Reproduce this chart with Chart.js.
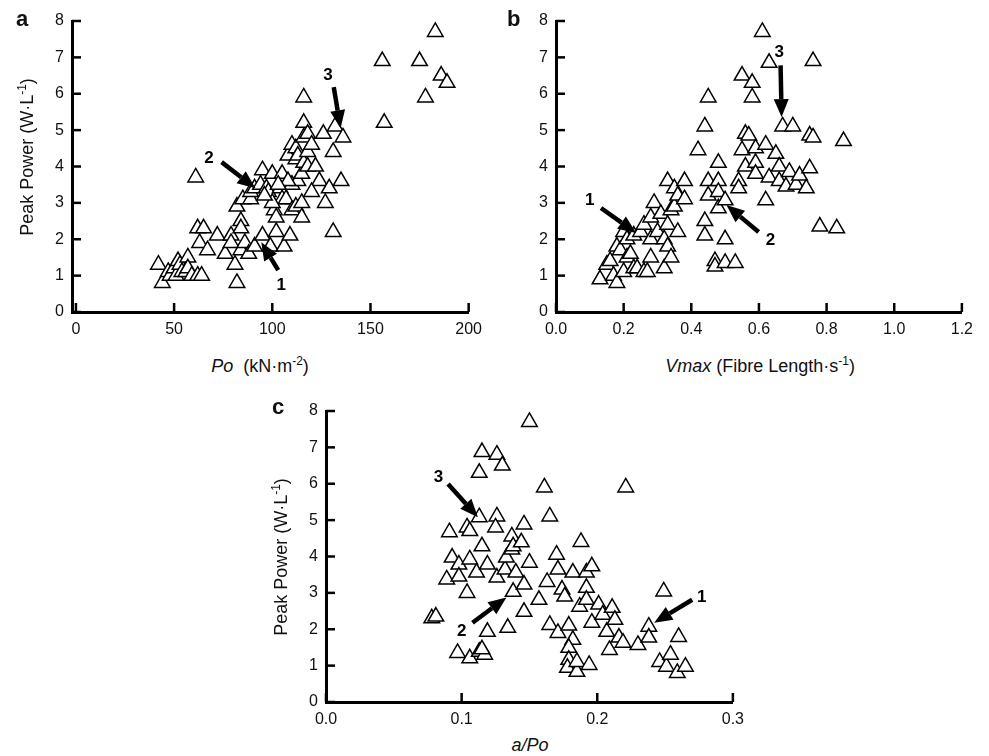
<!DOCTYPE html>
<html>
<head>
<meta charset="utf-8">
<script src="https://cdn.jsdelivr.net/npm/chart.js@4.4.0/dist/chart.umd.min.js"></script>
<style>
  body { margin:0; background:#fff; width:989px; height:756px; position:relative; overflow:hidden;
         font-family:"Liberation Sans", Arial, sans-serif; color:#111; }
  canvas { position:absolute; }
  .lbl { position:absolute; font-size:18px; line-height:18px; white-space:nowrap; text-align:center; }
  .panel { position:absolute; font-weight:bold; font-size:22px; line-height:22px; }
  .ytitle { transform: translate(-50%,-50%) rotate(-90deg); }
  sup { font-size:12px; line-height:0; vertical-align:7px; }
</style>
</head>
<body>
<canvas id="chartA" width="490" height="345" style="left:0;top:0"></canvas>
<canvas id="chartB" width="491" height="345" style="left:490px;top:0"></canvas>
<canvas id="chartC" width="502" height="345" style="left:250px;top:390px"></canvas>

<div class="panel" style="left:16px;top:8px">a</div>
<div class="panel" style="left:507px;top:8px">b</div>
<div class="panel" style="left:272px;top:396px">c</div>

<div class="lbl ytitle" style="left:27px;top:157px">Peak Power (W·L<sup>-1</sup>)</div>
<div class="lbl ytitle" style="left:281px;top:557px">Peak Power (W·L<sup>-1</sup>)</div>
<div class="lbl" style="left:110px;top:357px;width:300px"><i>Po</i>&nbsp; (kN·m<sup>-2</sup>)</div>
<div class="lbl" style="left:610px;top:357px;width:300px"><i>Vmax</i> (Fibre Length·s<sup>-1</sup>)</div>
<div class="lbl" style="left:430px;top:736px;width:200px"><i>a/Po</i></div>

<script>
// Po (kN·m-2) vs peak power (W·L-1)
const pointsA = [
  [42,1.3],[44,0.8],[47,1.1],[48,1.0],[50,1.2],[51,1.0],[52,1.4],[53,1.3],[54,1.1],[56,1.1],
  [57,1.5],[57,1.2],[59,1.0],[62,1.0],[64,1.0],[61,3.7],
  [62,2.3],[65,2.3],[63,1.9],[67,1.7],[72,2.1],[76,1.6],[79,2.1],[79,1.9],[81,1.3],[82,0.8],
  [84,1.7],[86,1.9],[88,1.6],[91,1.8],[95,2.1],[99,1.8],[102,2.2],[106,1.8],[109,2.1],
  [82,2.9],[84,2.5],[84,2.3],[85,3.1],[89,3.1],[89,3.3],[91,3.4],[94,3.5],[95,3.9],[97,3.4],
  [98,3.3],[100,3.8],[101,2.8],[102,2.6],[104,3.4],[105,3.8],[105,3.1],[107,3.1],[108,4.3],[110,2.8],
  [110,3.5],[110,4.6],[112,4.5],[112,4.2],[112,2.9],[113,3.6],[113,4.3],[115,2.6],[115,3.8],[115,3.0],
  [116,4.1],[116,4.8],[116,5.2],[116,5.9],[118,4.0],[118,4.4],[118,4.9],[124,3.6],[126,4.9],[127,3.0],
  [129,3.4],[131,4.4],[131,2.2],[132,5.1],[135,3.6],[136,4.8],[120,4.6],[108,3.6],[103,3.5],[100,3.0],
  [96,3.2],[120,3.3],[122,4.0],
  [156,6.9],[157,5.2],[175,6.9],[178,5.9],[183,7.7],[186,6.5],[189,6.3]
];

// Vmax (fibre length·s-1) vs peak power
const pointsB = [
  [0.13,0.9],[0.15,1.3],[0.16,1.4],[0.17,1.0],[0.18,0.8],[0.18,1.8],[0.19,1.7],[0.20,1.1],[0.20,2.2],[0.21,2.0],
  [0.21,1.5],[0.22,1.6],[0.23,1.2],[0.23,2.1],[0.24,1.2],[0.25,2.2],[0.26,1.1],[0.26,2.4],[0.27,1.1],[0.28,1.5],
  [0.28,2.0],[0.28,2.6],[0.29,3.0],[0.30,2.2],[0.31,2.7],[0.32,1.2],[0.32,2.0],[0.33,1.8],[0.33,2.4],[0.33,3.6],
  [0.34,1.5],[0.34,2.8],[0.35,2.9],[0.35,3.4],[0.36,2.2],[0.36,3.2],[0.38,3.1],[0.38,3.6],
  [0.42,4.45],[0.44,5.1],[0.45,5.9],[0.44,2.5],[0.44,2.1],[0.45,3.6],[0.45,3.2],[0.47,1.4],[0.47,1.25],[0.48,4.1],
  [0.48,3.6],[0.48,3.3],[0.48,2.85],[0.50,3.07],[0.50,2.0],[0.50,1.35],[0.53,1.35],[0.54,3.6],[0.54,3.4],[0.55,4.45],
  [0.56,4.9],[0.57,4.85],[0.56,4.0],[0.55,6.5],[0.58,6.3],[0.58,5.9],[0.59,4.5],[0.59,4.1],[0.59,3.8],[0.61,7.7],
  [0.62,3.07],[0.62,4.6],[0.63,6.85],[0.63,3.7],[0.65,4.35],[0.66,4.0],[0.66,3.6],[0.67,5.1],[0.68,3.45],[0.69,3.85],
  [0.70,5.1],[0.71,3.5],[0.72,3.75],[0.74,3.4],[0.75,3.95],[0.75,4.85],[0.76,4.8],[0.76,6.9],[0.78,2.35],[0.83,2.3],
  [0.85,4.7]
];

// a/Po vs peak power
const pointsC = [
  [0.078,2.3],[0.081,2.35],[0.089,3.37],[0.091,4.67],[0.093,3.97],[0.097,1.35],[0.098,3.78],[0.098,3.45],[0.104,4.8],[0.106,4.7],
  [0.104,3.0],[0.106,3.92],[0.106,1.2],[0.111,3.56],[0.113,1.38],[0.117,1.3],[0.115,1.45],[0.113,5.08],[0.113,6.3],[0.115,6.87],
  [0.115,4.28],[0.119,3.78],[0.119,1.93],[0.126,6.8],[0.13,6.5],[0.126,5.1],[0.125,4.8],[0.126,3.42],[0.132,3.64],[0.133,3.97],
  [0.134,2.04],[0.137,4.55],[0.137,4.19],[0.138,4.28],[0.138,3.03],[0.14,3.56],[0.144,4.39],[0.146,4.88],[0.146,3.23],[0.146,2.48],
  [0.15,3.83],[0.15,7.7],[0.157,2.81],[0.161,5.9],[0.163,3.3],[0.165,5.1],[0.165,2.12],[0.17,4.05],[0.171,3.64],[0.171,1.9],
  [0.174,3.09],[0.176,2.9],[0.179,2.1],[0.182,3.56],[0.182,1.71],[0.179,1.49],[0.179,1.16],[0.178,0.94],[0.185,0.83],[0.185,1.1],
  [0.187,2.62],[0.188,4.4],[0.192,3.14],[0.192,2.81],[0.192,3.56],[0.194,1.02],[0.196,3.73],[0.196,2.18],[0.201,2.68],[0.204,2.4],
  [0.207,1.93],[0.209,1.43],[0.211,2.59],[0.213,2.26],[0.216,1.77],[0.219,1.63],[0.221,5.9],[0.23,1.57],[0.238,2.07],[0.238,1.77],
  [0.246,1.1],[0.249,3.04],[0.251,0.97],[0.254,1.3],[0.259,0.8],[0.26,1.79],[0.265,0.97]
];

const xTicksA = [0, 50, 100, 150, 200];
const xTicksB = [0, 0.2, 0.4, 0.6, 0.8, 1.0, 1.2];
const xTicksC = [0, 0.1, 0.2, 0.3];
const yTicks = [0, 1, 2, 3, 4, 5, 6, 7, 8];

// numbered arrows: tail, head, number position (data units)
const arrowsA = [
  { label: "1", from: [103, 1.15], to: [94.4, 1.92], at: [104.5, 0.74] },
  { label: "2", from: [74.2, 4.12], to: [91.4, 3.4], at: [67.7, 4.23] },
  { label: "3", from: [131.3, 6.18], to: [134.8, 5.05], at: [128.3, 6.5] },
];
const arrowsB = [
  { label: "1", from: [0.133, 2.86], to: [0.237, 2.17], at: [0.10, 3.07] },
  { label: "2", from: [0.599, 2.2], to: [0.504, 2.94], at: [0.634, 1.98] },
  { label: "3", from: [0.664, 6.78], to: [0.667, 5.36], at: [0.66, 7.14] },
];
const arrowsC = [
  { label: "3", from: [0.09, 5.99], to: [0.112, 5.08], at: [0.083, 6.18] },
  { label: "2", from: [0.108, 2.18], to: [0.133, 2.87], at: [0.10, 1.93] },
  { label: "1", from: [0.27, 2.81], to: [0.242, 2.18], at: [0.277, 2.87] },
];

Chart.defaults.font.family = '"Liberation Sans", Arial, sans-serif';
Chart.defaults.font.size = 16;
Chart.defaults.color = "#111";

// ticks point inward from the axis lines
const inwardTicks = {
  id: "inwardTicks",
  afterDraw(chart) {
    const { ctx, chartArea, scales } = chart;
    ctx.save();
    ctx.strokeStyle = "#000";
    ctx.lineWidth = 2.5;
    scales.x.ticks.forEach((t) => {
      const px = scales.x.getPixelForValue(t.value);
      ctx.beginPath();
      ctx.moveTo(px, chartArea.bottom);
      ctx.lineTo(px, chartArea.bottom - 9);
      ctx.stroke();
    });
    scales.y.ticks.forEach((t) => {
      const py = scales.y.getPixelForValue(t.value);
      ctx.beginPath();
      ctx.moveTo(chartArea.left, py);
      ctx.lineTo(chartArea.left + 9, py);
      ctx.stroke();
    });
    ctx.restore();
  },
};

function arrowPlugin(list) {
  return {
    id: "arrows",
    afterDatasetsDraw(chart) {
      const { ctx, scales } = chart;
      const px = (p) => [scales.x.getPixelForValue(p[0]), scales.y.getPixelForValue(p[1])];
      ctx.save();
      ctx.fillStyle = "#000";
      ctx.strokeStyle = "#000";
      list.forEach((a) => {
        const [x1, y1] = px(a.from);
        const [x2, y2] = px(a.to);
        const ang = Math.atan2(y2 - y1, x2 - x1);
        const headLen = 18, headW = 7.5;
        const bx = x2 - headLen * Math.cos(ang);
        const by = y2 - headLen * Math.sin(ang);
        ctx.lineWidth = 4.5;
        ctx.beginPath();
        ctx.moveTo(x1, y1);
        ctx.lineTo(bx, by);
        ctx.stroke();
        ctx.beginPath();
        ctx.moveTo(x2, y2);
        ctx.lineTo(bx + headW * Math.sin(ang), by - headW * Math.cos(ang));
        ctx.lineTo(bx - headW * Math.sin(ang), by + headW * Math.cos(ang));
        ctx.closePath();
        ctx.fill();
        const [tx, ty] = px(a.at);
        ctx.font = 'bold 17px "Liberation Sans", Arial, sans-serif';
        ctx.textAlign = "center";
        ctx.textBaseline = "middle";
        ctx.fillText(a.label, tx, ty);
      });
      ctx.restore();
    },
  };
}

function makeChart(id, points, xMin, xMax, xTicks, decimals, yAxisWidth, arrows) {
  return new Chart(document.getElementById(id), {
    type: "scatter",
    data: {
      datasets: [{
        data: points.map(([x, y]) => ({ x, y })),
        pointStyle: "triangle",
        pointRadius: 9,
        pointBackgroundColor: "#fff",
        pointBorderColor: "#000",
        pointBorderWidth: 1.5,
        clip: false,
      }],
    },
    options: {
      responsive: false,
      animation: false,
      events: [],
      layout: { padding: { top: 21, right: 18, left: 0, bottom: 0 } },
      plugins: { legend: { display: false }, tooltip: { enabled: false } },
      scales: {
        x: {
          type: "linear",
          min: xMin,
          max: xMax,
          afterBuildTicks: (axis) => { axis.ticks = xTicks.map((v) => ({ value: v })); },
          afterFit: (axis) => { axis.height = 33; },
          grid: { display: false, drawTicks: false },
          border: { display: true, color: "#000", width: 3 },
          ticks: { padding: 8, callback: (v) => v.toFixed(decimals) },
        },
        y: {
          type: "linear",
          min: 0,
          max: 8,
          afterBuildTicks: (axis) => { axis.ticks = yTicks.map((v) => ({ value: v })); },
          afterFit: (axis) => { axis.width = yAxisWidth; },
          grid: { display: false, drawTicks: false },
          border: { display: true, color: "#000", width: 3 },
          ticks: { padding: 8 },
        },
      },
    },
    plugins: [inwardTicks, arrowPlugin(arrows)],
  });
}

makeChart("chartA", pointsA, -2, 200, xTicksA, 0, 72, arrowsA);
makeChart("chartB", pointsB, 0, 1.2, xTicksB, 1, 66, arrowsB);
makeChart("chartC", pointsC, 0, 0.3, xTicksC, 1, 76, arrowsC);
</script>
</body>
</html>
